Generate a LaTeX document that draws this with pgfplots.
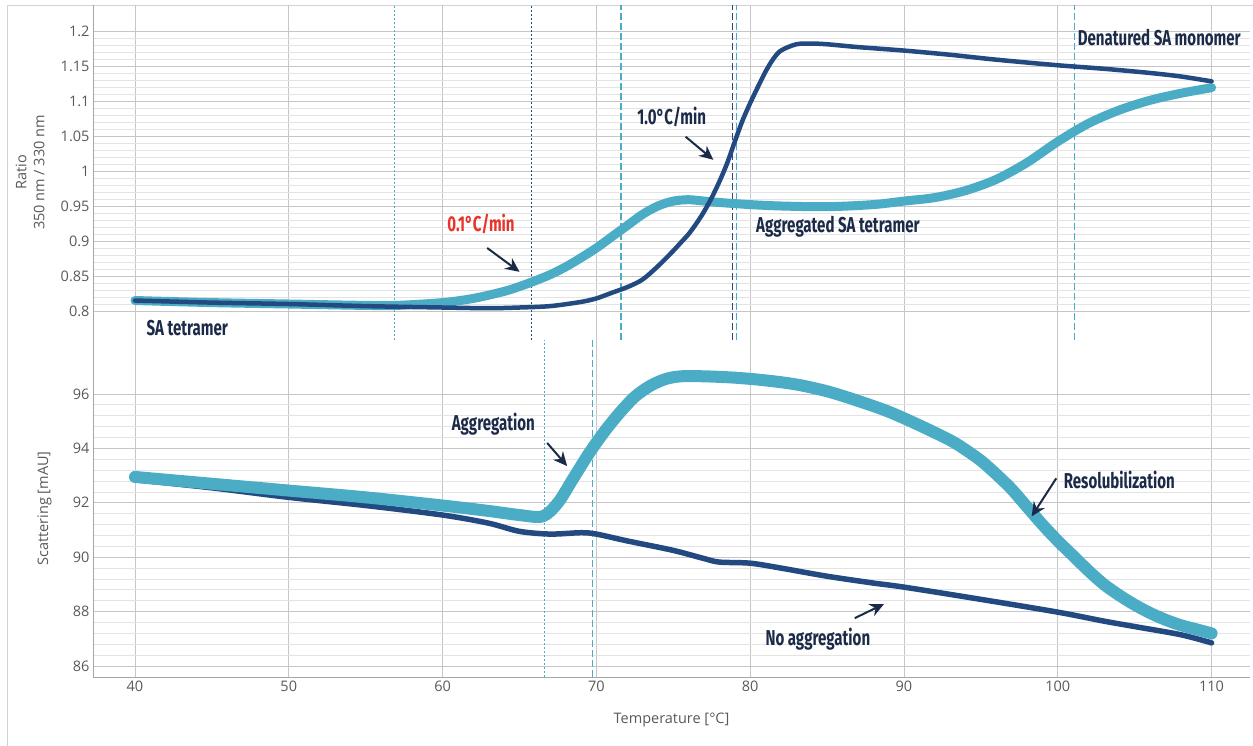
\documentclass[border=0pt]{standalone}
\usepackage{pgfplots}
\pgfplotsset{compat=1.18}
\usepackage{fontspec}
\setmainfont{Open Sans}
\newfontfamily\annot[FakeStretch=0.7]{Fira Sans}
\usetikzlibrary{arrows.meta}
\definecolor{lightc}{HTML}{4BACC6}
\definecolor{darkc}{HTML}{234A80}
\definecolor{navy}{HTML}{1B2A48}
\definecolor{redc}{HTML}{E8332A}
\definecolor{txt}{HTML}{595959}

\pgfplotstableread{
x y
40 0.815
45 0.812
50 0.810
55 0.807
60 0.805
63 0.804
65 0.805
67 0.807
69 0.813
70 0.818
71 0.826
72 0.834
73 0.845
74 0.864
75 0.886
75.5 0.898
76 0.910
76.5 0.925
77 0.942
77.5 0.962
78 0.985
78.5 1.011
79 1.042
79.5 1.072
80 1.097
80.5 1.120
81 1.142
81.5 1.160
82 1.172
83 1.181
84 1.182
85 1.181
87 1.177
90 1.172
93 1.166
96 1.159
100 1.151
103 1.146
106 1.140
108 1.135
110 1.128
}\topdark

\pgfplotstableread{
x y
40 0.815
45 0.812
50 0.810
55 0.808
57 0.808
60 0.812
62 0.818
64 0.828
65 0.835
66 0.843
67 0.852
68 0.863
69 0.876
70 0.890
71 0.906
72 0.922
73 0.938
74 0.950
75 0.957
76 0.959
77 0.957
78 0.955
80 0.952
82 0.950
85 0.949
88 0.952
90 0.957
92 0.962
94 0.972
96 0.988
98 1.012
100 1.042
102 1.068
104 1.087
106 1.101
108 1.111
110 1.119
}\toplight

\pgfplotstableread{
x y
40 92.85
45 92.55
50 92.20
55 91.90
60 91.55
63 91.25
65 90.95
67 90.85
69 90.90
70 90.85
72 90.60
75 90.25
77 89.95
78 89.82
80 89.78
82 89.60
85 89.30
88 89.05
90 88.90
95 88.45
100 87.98
103 87.65
105 87.45
108 87.15
110 86.85
}\botdark

\pgfplotstableread{
x y
40 92.95
45 92.70
50 92.45
55 92.20
60 91.90
63 91.70
65 91.55
66.5 91.50
67.5 92.00
68.5 92.90
69.5 93.80
70.5 94.60
71.5 95.30
72.5 95.90
73.5 96.30
74.5 96.55
75.5 96.65
77 96.65
79 96.60
81 96.50
83 96.35
85 96.10
87 95.75
89 95.35
91 94.85
93 94.30
94 93.95
95 93.55
96 93.05
97 92.50
98 91.85
99 91.20
100 90.60
101 90.05
102 89.50
103 89.00
104 88.60
105 88.25
106 87.95
107 87.70
108 87.50
109 87.35
110 87.20
}\botlight

\pgfplotsset{
  base/.style={
    scale only axis, width=1157pt,
    xmin=37.27, xmax=112.5,
    xtick={40,50,...,110},
    grid=both,
    major grid style={draw=gray!45, line width=0.8pt},
    minor grid style={draw=gray!22, line width=0.8pt},
    major tick length=0pt, minor tick length=0pt,
    tick label style={font=\fontsize{14.5}{16}\selectfont, text=txt},
    /pgf/number format/assume math mode=true,
    axis lines*=left,
    axis line style={draw=gray!70, line width=0.8pt},
    label style={font=\fontsize{14.5}{18}\selectfont, text=txt},
  },
}
\tikzset{
  lt/.style={lightc, line width=9pt, line join=round, line cap=round},
  dk/.style={darkc, line width=4.5pt, line join=round, line cap=round},
  ann/.style={navy, font=\annot\bfseries\fontsize{21.5}{23}\selectfont},
  arr/.style={navy, line width=2pt, -{Stealth[length=14pt, width=13pt]}},
  dotl/.style={line width=1.1pt, dash pattern=on 2pt off 2pt},
  dshl/.style={line width=1.1pt, dash pattern=on 7pt off 3pt},
}

\begin{document}
\begin{tikzpicture}[x=1pt,y=1pt]
\useasboundingbox (0,0) rectangle (1253,745);
\draw[gray!35, line width=0.8pt] (7,-2) -- (7,740) -- (1255,740);

% top panel
\begin{axis}[base, at={(93pt,405pt)}, anchor=south west, height=335pt,
  ymin=0.7586, ymax=1.2371,
  ytick={0.8,0.85,0.9,0.95,1,1.05,1.1,1.15,1.2},
  yticklabels={0.8,0.85,0.9,0.95,1,1.05,1.1,1.15,1.2},
  minor y tick num=4,
  xticklabels={},
  x axis line style={draw=none},
  ylabel={Ratio\\350 nm / 330 nm},
  ylabel style={align=center, at={(axis description cs:-0.0389,0.5)}, anchor=south},
]
\draw[lightc, dotl] (axis cs:56.9,0.7586) -- (axis cs:56.9,1.2371);
\draw[darkc, dotl] (axis cs:65.8,0.7586) -- (axis cs:65.8,1.2371);
\draw[lightc, dshl] (axis cs:71.6,0.7586) -- (axis cs:71.6,1.2371);
\draw[darkc, dshl] (axis cs:78.87,0.7586) -- (axis cs:78.87,1.2371);
\draw[lightc, dshl] (axis cs:79.1,0.7586) -- (axis cs:79.1,1.2371);
\draw[lightc, dshl] (axis cs:101.1,0.7586) -- (axis cs:101.1,1.2371);
\addplot[lt, no markers, smooth] table {\toplight};
\addplot[dk, no markers, smooth] table {\topdark};
\node[ann] at (axis cs:43.4,0.776) {SA tetramer};
\node[ann, text=redc] at (axis cs:62.5,0.924) {0.1°C/min};
\node[ann] at (axis cs:74.9,1.077) {1.0°C/min};
\node[ann] at (axis cs:85.7,0.920) {Aggregated SA tetramer};
\node[ann] at (axis cs:106.6,1.190) {Denatured SA monomer};
\draw[arr] (axis cs:62.9,0.890) -- (axis cs:65.0,0.856);
\draw[arr] (axis cs:75.8,1.049) -- (axis cs:77.6,1.016);
\end{axis}

% bottom panel
\begin{axis}[base, at={(93pt,68pt)}, anchor=south west, height=337pt,
  ymin=85.596, ymax=97.985,
  ytick={86,88,90,92,94,96},
  minor y tick num=4,
  xlabel={Temperature [°C]},
  xlabel style={at={(axis description cs:0.5,0)}, anchor=center, yshift=-43pt},
  ylabel={Scattering [mAU]},
  ylabel style={at={(axis description cs:-0.0328,0.5)}, anchor=south},
]
\draw[lightc, dotl] (axis cs:66.6,85.596) -- (axis cs:66.6,97.985);
\draw[lightc, dshl] (axis cs:69.75,85.596) -- (axis cs:69.75,97.985);
\addplot[dk, line width=5.5pt, no markers, smooth] table {\botdark};
\addplot[lt, line width=12pt, no markers, smooth] table {\botlight};
\node[ann] at (axis cs:63.3,94.9) {Aggregation};
\node[ann] at (axis cs:104.0,92.84) {Resolubilization};
\node[ann] at (axis cs:84.4,87.0) {No aggregation};
\draw[arr] (axis cs:66.8,94.2) -- (axis cs:68.1,93.35);
\draw[arr] (axis cs:99.9,92.9) -- (axis cs:98.3,91.5);
\draw[arr] (axis cs:86.8,87.76) -- (axis cs:88.7,88.28);
\end{axis}
\end{tikzpicture}
\end{document}
